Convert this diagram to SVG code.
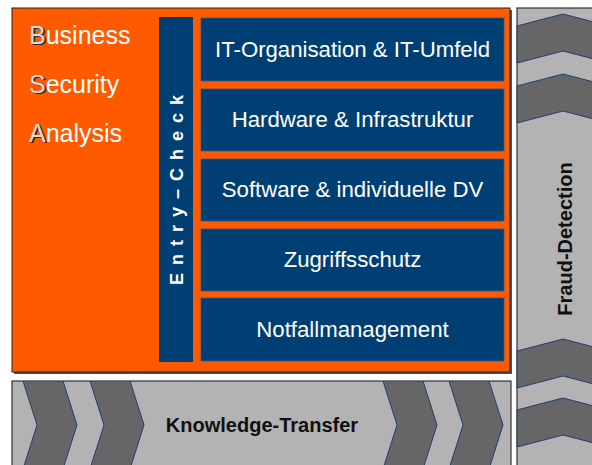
<svg xmlns="http://www.w3.org/2000/svg" width="592" height="465" viewBox="0 0 592 465">
<defs>
<style>
.panel{fill:#b3b3b3;stroke:#333;stroke-width:1.2}
.chev{fill:#666666;stroke:#1f3f6f;stroke-width:1}
.box{fill:#003f73;stroke:#2a5a88;stroke-width:0.8}
.boxt{font-family:"Liberation Sans",Arial,sans-serif;font-size:22.2px;fill:#ffffff;text-anchor:middle}
.bsa{font-family:"Liberation Sans",Arial,sans-serif;font-size:25px;fill:#ffffff}
.ini{fill:#dcdcdc}
.sh{font-family:"Liberation Sans",Arial,sans-serif;font-size:25px;fill:none}
.shi{fill:#2a2a2a}
.bold{font-family:"Liberation Sans",Arial,sans-serif;font-weight:bold;font-size:20px;fill:#111;text-anchor:middle}
</style>
<clipPath id="cb"><rect x="12" y="381" width="499" height="84"/></clipPath>
</defs>
<rect width="592" height="465" fill="#ffffff"/>

<g id="fraud-detection">
<rect class="panel" x="517" y="8" width="100" height="470"/>
<polygon class="chev" points="517,26 563,14 609,26 609,63 563,51 517,63"/>
<polygon class="chev" points="517,86 563,74 609,86 609,123 563,111 517,123"/>
<polygon class="chev" points="517,351 563,339 609,351 609,388 563,376 517,388"/>
<polygon class="chev" points="517,410 563,398 609,410 609,447 563,435 517,447"/>
<text class="bold" transform="translate(572,239) rotate(-90)">Fraud-Detection</text>
</g>

<g id="knowledge-transfer">
<rect class="panel" x="12" y="381" width="499" height="95"/>
<g clip-path="url(#cb)">
<polygon class="chev" points="23,381 37,425 23,469 63,469 77,425 63,381"/>
<polygon class="chev" points="90,381 104,425 90,469 130,469 144,425 130,381"/>
<polygon class="chev" points="383,381 397,425 383,469 423,469 437,425 423,381"/>
<polygon class="chev" points="449,381 463,425 449,469 489,469 503,425 489,381"/>
</g>
<text class="bold" x="262" y="432">Knowledge-Transfer</text>
</g>

<g id="bsa">
<rect x="14" y="10" width="498" height="364" fill="#555"/>
<rect x="12" y="8" width="498" height="364" fill="#ff5a00" stroke="#222" stroke-width="1"/>
<text class="sh" x="30.5" y="45"><tspan class="shi">B</tspan>usiness</text>
<text class="sh" x="30.5" y="94"><tspan class="shi">S</tspan>ecurity</text>
<text class="sh" x="30.5" y="143"><tspan class="shi">A</tspan>nalysis</text>
<text class="bsa" x="29" y="44"><tspan class="ini">B</tspan>usiness</text>
<text class="bsa" x="29" y="93"><tspan class="ini">S</tspan>ecurity</text>
<text class="bsa" x="29" y="142"><tspan class="ini">A</tspan>nalysis</text>
</g>

<g id="entry-check">
<rect x="159" y="17" width="34" height="345" fill="#003f73"/>
<text transform="translate(183,285) rotate(-90)" font-family="'Liberation Sans',Arial,sans-serif" font-weight="bold" font-size="18" fill="#ffffff" letter-spacing="8">Entry–Check</text>
</g>

<g id="it-organisation">
<rect class="box" x="201" y="18" width="303" height="63"/>
<text class="boxt" x="352.5" y="57">IT-Organisation &amp; IT-Umfeld</text>
</g>
<g id="hardware">
<rect class="box" x="201" y="89" width="303" height="62"/>
<text class="boxt" x="352.5" y="127">Hardware &amp; Infrastruktur</text>
</g>
<g id="software">
<rect class="box" x="201" y="159" width="303" height="62"/>
<text class="boxt" x="352.5" y="197">Software &amp; individuelle DV</text>
</g>
<g id="zugriffsschutz">
<rect class="box" x="201" y="229" width="303" height="62"/>
<text class="boxt" x="352.5" y="267">Zugriffsschutz</text>
</g>
<g id="notfallmanagement">
<rect class="box" x="201" y="298" width="303" height="63"/>
<text class="boxt" x="352.5" y="337">Notfallmanagement</text>
</g>

<g id="connectors"></g>
</svg>
